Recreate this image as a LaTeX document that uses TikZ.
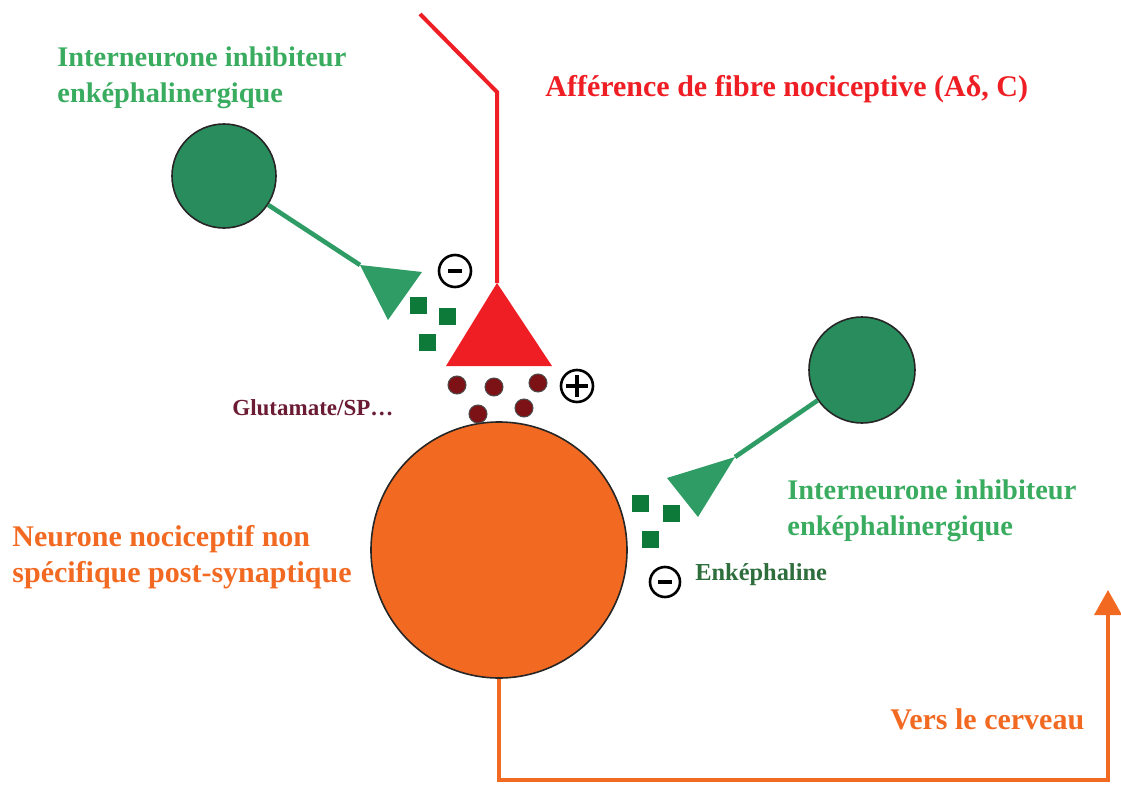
\documentclass[tikz,border=0pt]{standalone}
\usepackage{fontspec}
\setmainfont{Liberation Serif}
\usetikzlibrary{arrows.meta}

\definecolor{lblgreen}{RGB}{58,172,96}
\definecolor{cellgreen}{RGB}{40,140,92}
\definecolor{termgreen}{RGB}{46,156,100}
\definecolor{vesgreen}{RGB}{14,122,58}
\definecolor{fibred}{RGB}{238,30,36}
\definecolor{neurorange}{RGB}{242,106,34}
\definecolor{glured}{RGB}{125,18,22}
\definecolor{glutext}{RGB}{107,28,52}
\definecolor{enktext}{RGB}{45,110,60}

\begin{document}
\begin{tikzpicture}[x=0.5pt, y=-0.5pt,
    soma/.style={draw=black!85, line width=0.8pt, circle, inner sep=0pt},
    vesicle/.style={fill=vesgreen, minimum size=8.5pt, inner sep=0pt},
    gludot/.style={circle, fill=glured, draw=black!70, line width=0.5pt, minimum size=9pt, inner sep=0pt},
    sign/.style={circle, draw=black, line width=1.3pt, minimum size=16pt, inner sep=0pt},
    signbar/.style={line width=2pt},
    label/.style={font=\bfseries\fontsize{15}{18}\selectfont, align=left, inner sep=0pt, anchor=west},
    small/.style={font=\bfseries\fontsize{11.5}{14}\selectfont, inner sep=0pt, anchor=west}
  ]
  \useasboundingbox (0,0) rectangle (1121,787);

  % interneurone du haut
  \node[soma, fill=cellgreen, minimum size=52pt] (gtop) at (224,176) {};
  \coordinate (lt1) at (360,265);
  \coordinate (lt2) at (422,272);
  \coordinate (lt3) at (388,320);
  \fill[termgreen] (lt1) -- (lt2) -- (lt3) -- cycle;
  \draw[termgreen, line width=2.3pt] (gtop) -- (lt1);

  % fibre nociceptive
  \coordinate (fibtop) at (420,14);
  \coordinate (fibbend) at (497,92);
  \coordinate (rt) at (497,283);
  \coordinate (rl) at (446,366);
  \coordinate (rr) at (552,366);
  \draw[fibred, line width=2pt] (fibtop) -- (fibbend) -- (rt);
  \fill[fibred] (rt) -- (rl) -- (rr) -- cycle;

  % interneurone de droite
  \node[soma, fill=cellgreen, minimum size=53pt] (gright) at (862,370) {};
  \coordinate (gt1) at (735,457);
  \coordinate (gt2) at (667,478);
  \coordinate (gt3) at (698,517);
  \fill[termgreen] (gt1) -- (gt2) -- (gt3) -- cycle;
  \draw[termgreen, line width=2.3pt] (gright) -- (gt1);

  % neurone post-synaptique
  \node[soma, fill=neurorange, minimum size=128pt] (neuron) at (499,550) {};
  \coordinate (outA) at (499,780);
  \coordinate (outB) at (1108,780);
  \coordinate (brain) at (1108,590);
  \draw[neurorange, line width=1.8pt, -{Triangle[length=12.5pt, width=13.5pt]}]
    (neuron.south) -- (outA) -- (outB) -- (brain);

  % vesicules
  \node[vesicle] (v1) at (418,305) {};
  \node[vesicle] (v2) at (447,316) {};
  \node[vesicle] (v3) at (427,342) {};
  \node[vesicle] (v4) at (640,503) {};
  \node[vesicle] (v5) at (671,513) {};
  \node[vesicle] (v6) at (650,539) {};

  \node[gludot] (d1) at (457,385) {};
  \node[gludot] (d2) at (494,387) {};
  \node[gludot] (d3) at (538,383) {};
  \node[gludot] (d4) at (478,414) {};
  \node[gludot] (d5) at (524,408) {};

  % signes
  \node[sign] (m1) at (455,271) {};
  \draw[signbar] ([xshift=-3.5pt]m1.center) -- ([xshift=3.5pt]m1.center);
  \node[sign] (p1) at (577,386) {};
  \draw[signbar] ([xshift=-5.5pt]p1.center) -- ([xshift=5.5pt]p1.center);
  \draw[signbar] ([yshift=-5.5pt]p1.center) -- ([yshift=5.5pt]p1.center);
  \node[sign, minimum size=15pt] (m2) at (665,582) {};
  \draw[signbar] ([xshift=-3.5pt]m2.center) -- ([xshift=3.5pt]m2.center);

  % textes
  \node[label, text=lblgreen, font=\bfseries\fontsize{14.2}{18}\selectfont] (ltop) at (57,78) {Interneurone inhibiteur\\enképhalinergique};
  \node[label, text=fibred] (lfib) at (545,89) {Afférence de fibre nociceptive (Aδ, C)};
  \node[label, text=lblgreen, font=\bfseries\fontsize{14.2}{18}\selectfont] (lright) at (787,511) {Interneurone inhibiteur\\enképhalinergique};
  \node[label, text=neurorange] (lneur) at (12,557) {Neurone nociceptif non\\spécifique post-synaptique};
  \node[label, text=neurorange] (lbrain) at (890,719) {Vers le cerveau};
  \node[small, text=glutext] (lglu) at (232,408) {Glutamate/SP…};
  \node[small, text=enktext, font=\bfseries\fontsize{12.2}{14}\selectfont] (lenk) at (695,575) {Enképhaline};
\end{tikzpicture}
\end{document}
